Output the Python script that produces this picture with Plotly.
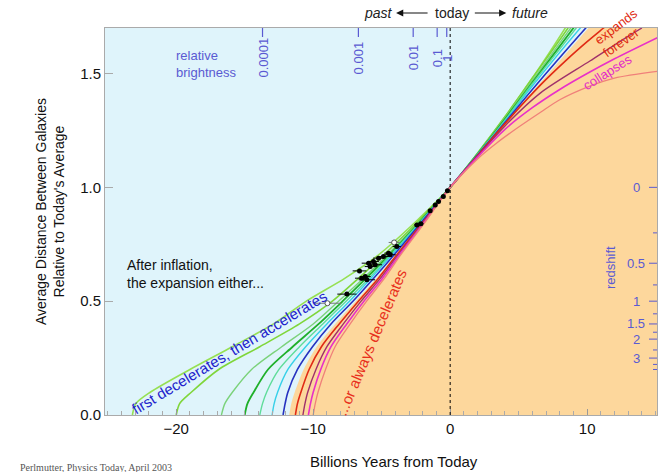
import plotly.graph_objects as go

# ---------------- data ----------------
# Expansion histories: x = billions of years from today, y = average distance relative to today
A_x = [-23.2, -22.95, -21.9, -19.0, -15.9, -12.9, -10.5, -7.7, -5.3, -2.5, 0, 2, 4, 6, 8.4, 9.0]
A_y = [0.0, 0.05, 0.10, 0.20, 0.30, 0.40, 0.50, 0.60, 0.70, 0.85, 1.0, 1.15, 1.31, 1.48, 1.70, 1.76]
B_x = [-20.0, -19.75, -18.9, -16.9, -13.9, -11.0, -8.6, -6.7, -4.9, -2.35, 0, 2, 4, 6, 8.6, 9.2]
B_y = [0.0, 0.05, 0.10, 0.20, 0.30, 0.40, 0.50, 0.60, 0.70, 0.85, 1.0, 1.15, 1.31, 1.48, 1.70, 1.76]
C_x = [-16.7, -16.45, -15.9, -14.5, -12.3, -10.0, -8.15, -6.35, -4.65, -2.25, 0, 2, 4, 6, 8.8, 9.4]
C_y = [0.0, 0.05, 0.10, 0.20, 0.30, 0.40, 0.50, 0.60, 0.70, 0.85, 1.0, 1.148, 1.305, 1.47, 1.70, 1.75]
D_x = [-15.0, -14.8, -14.35, -13.3, -11.5, -9.6, -7.85, -6.15, -4.5, -2.2, 0, 2, 4, 6, 9.0, 9.6]
D_y = [0.0, 0.05, 0.10, 0.20, 0.30, 0.40, 0.50, 0.60, 0.70, 0.85, 1.0, 1.146, 1.30, 1.46, 1.70, 1.75]
E_x = [-13.9, -13.7, -13.4, -12.5, -11.0, -9.3, -7.6, -5.95, -4.4, -2.15, 0, 2, 4, 6, 9.2, 9.8]
E_y = [0.0, 0.05, 0.10, 0.20, 0.30, 0.40, 0.50, 0.60, 0.70, 0.85, 1.0, 1.145, 1.295, 1.455, 1.70, 1.75]
F_x = [-13.0, -12.85, -12.6, -11.85, -10.55, -9.0, -7.35, -5.8, -4.3, -2.1, 0, 2, 4, 6, 9.5, 10.1]
F_y = [0.0, 0.05, 0.10, 0.20, 0.30, 0.40, 0.50, 0.60, 0.70, 0.85, 1.0, 1.143, 1.29, 1.445, 1.70, 1.74]
G_x = [-12.2, -12.05, -11.85, -11.15, -10.05, -8.7, -7.1, -5.6, -4.15, -2.05, 0, 2, 4, 6, 9.9, 10.5]
G_y = [0.0, 0.05, 0.10, 0.20, 0.30, 0.40, 0.50, 0.60, 0.70, 0.85, 1.0, 1.142, 1.285, 1.43, 1.70, 1.74]
H_x = [-11.3, -11.15, -10.9, -10.3, -9.4, -8.1, -6.7, -5.25, -3.95, -1.95, 0, 2, 4, 6.6, 8.5, 10.0, 11.2, 11.8]
H_y = [0.0, 0.05, 0.10, 0.20, 0.30, 0.40, 0.50, 0.60, 0.70, 0.85, 1.0, 1.14, 1.28, 1.45, 1.56, 1.64, 1.70, 1.73]
I_x = [-10.75, -10.6, -10.4, -9.8, -9.0, -7.8, -6.5, -5.1, -3.85, -1.9, 0, 2, 4, 6.6, 10.2, 12.9, 14.0]
I_y = [0.0, 0.05, 0.10, 0.20, 0.30, 0.40, 0.50, 0.60, 0.70, 0.85, 1.0, 1.137, 1.27, 1.415, 1.555, 1.66, 1.70]
J_x = [-10.35, -10.2, -10.0, -9.45, -8.7, -7.55, -6.3, -4.95, -3.75, -1.85, 0, 2, 4, 6, 8, 10, 12, 15.2]
J_y = [0.0, 0.05, 0.10, 0.20, 0.30, 0.40, 0.50, 0.60, 0.70, 0.85, 1.0, 1.133, 1.255, 1.35, 1.43, 1.50, 1.565, 1.66]
K_x = [-10.0, -9.85, -9.65, -9.1, -8.4, -7.3, -6.1, -4.8, -3.65, -1.8, 0, 2, 3.4, 5, 6.6, 8, 10.2, 12, 15.2]
K_y = [0.0, 0.05, 0.10, 0.20, 0.30, 0.40, 0.50, 0.60, 0.70, 0.85, 1.0, 1.125, 1.195, 1.265, 1.33, 1.385, 1.445, 1.48, 1.51]

# boundary of the orange (always-decelerating) region
bound_x = [-11.75, -11.6, -11.35, -10.7, -9.75, -8.4, -6.9, -5.4, -4.05, -2.0, 0, 5, 10.1, 11.0, 16.0, 16.0, -11.75]
bound_y = [0.0, 0.05, 0.10, 0.20, 0.30, 0.40, 0.50, 0.60, 0.70, 0.85, 1.0, 1.35, 1.70, 1.76, 1.80, -0.10, -0.10]

# supernova measurements
sn_x = [-7.54, -6.62, -6.2, -5.96, -5.84, -5.6, -5.47, -5.23, -4.87, -4.5, -4.38, -6.45, -6.08, -3.9,
        -2.43, -2.14, -1.46, -1.09, -0.85, -0.5, -0.2]
sn_y = [0.531, 0.633, 0.608, 0.667, 0.652, 0.674, 0.66, 0.689, 0.696, 0.711, 0.704, 0.601, 0.594, 0.74,
        0.835, 0.84, 0.897, 0.923, 0.938, 0.96, 0.985]
sn_err = [0.7, 0.5, 0.4, 0.5, 0.4, 0.4, 0.5, 0.4, 0.4, 0.3, 0.4, 0.5, 0.6, 0.3,
          0.2, 0.2, 0.15, 0.1, 0.1, 0.1, 0.1]
sn_open_x = [-8.96, -4.09]
sn_open_y = [0.491, 0.758]
sn_open_err = [1.0, 0.4]

# secondary scales
bright_labels = ["0.0001", "0.001", "0.01", "0.1", "1"]
bright_x = [-13.7, -6.7, -2.7, -0.95, -0.25]
z_major = [0, 0.5, 1, 1.5, 2, 3]
z_major_labels = ["0", "0.5", "1", "1.5", "2", "3"]
z_minor = [0.25, 0.75, 1.25, 1.75, 2.5, 3.5, 4]

# ---------------- styling ----------------
FONT = "Liberation Sans, Arial, Helvetica, sans-serif"
BLUE_LAB = "#5a5ad2"
L, R, T, B = 105, 7, 28, 57
W, H = 664, 472
PH = H - T - B
PW = W - L - R
XR = [-25.2, 15.1]
YR = [0, 1.70]

def py2paper(py):
    return (H - B - py) / PH

def px2paper(px):
    return (px - L) / PW

fig = go.Figure()

fig.add_trace(go.Scatter(x=bound_x, y=bound_y, mode="lines", fill="toself",
                         fillcolor="#fdd79c", line=dict(width=0, shape="spline", smoothing=0.8),
                         hoverinfo="skip", showlegend=False))

curves = [
    (A_x, A_y, "#96e052", 1.6),
    (B_x, B_y, "#7fd63a", 1.6),
    (C_x, C_y, "#7bd27a", 1.4),
    (D_x, D_y, "#1fb02a", 1.8),
    (E_x, E_y, "#5fdc9a", 1.4),
    (F_x, F_y, "#36d0e8", 1.4),
    (G_x, G_y, "#2632c0", 1.6),
    (H_x, H_y, "#e02a14", 1.6),
    (I_x, I_y, "#a0306a", 1.4),
    (J_x, J_y, "#e830c8", 1.6),
    (K_x, K_y, "#f0807a", 1.3),
]
for cx, cy, col, w in curves:
    fig.add_trace(go.Scatter(x=cx, y=cy, mode="lines",
                             line=dict(color=col, width=w, shape="spline", smoothing=0.8),
                             hoverinfo="skip", showlegend=False))

fig.add_trace(go.Scatter(x=sn_open_x, y=sn_open_y, mode="markers",
                         marker=dict(size=5, color="white", line=dict(color="#555", width=1)),
                         error_x=dict(type="data", array=sn_open_err, color="#777", thickness=1, width=0),
                         showlegend=False))
fig.add_trace(go.Scatter(x=sn_x, y=sn_y, mode="markers",
                         marker=dict(size=5, color="black"),
                         error_x=dict(type="data", array=sn_err, color="black", thickness=1, width=0),
                         showlegend=False))

shapes = []
shapes.append(dict(type="line", xref="x", yref="paper", x0=0, x1=0, y0=0, y1=1,
                   line=dict(color="black", width=1, dash="3px,3px"), layer="above"))
for bx in bright_x:
    shapes.append(dict(type="line", xref="x", yref="paper", x0=bx, x1=bx, y0=1, y1=1 - 9 / PH,
                       line=dict(color=BLUE_LAB, width=1.2), layer="above"))
for z in z_major:
    a = 1 / (1 + z)
    shapes.append(dict(type="line", xref="paper", yref="y", x0=1, x1=1 - 8 / PW, y0=a, y1=a,
                       line=dict(color=BLUE_LAB, width=1), layer="above"))
for z in z_minor:
    a = 1 / (1 + z)
    shapes.append(dict(type="line", xref="paper", yref="y", x0=1, x1=1 - 4 / PW, y0=a, y1=a,
                       line=dict(color=BLUE_LAB, width=1), layer="above"))

ann = []

def add_text(text, px, py, size, color, angle=0, xanchor="center", align="center", family=FONT):
    ann.append(dict(text=text, x=px2paper(px), y=py2paper(py), xref="paper", yref="paper",
                    showarrow=False, textangle=angle, xanchor=xanchor, yanchor="middle", align=align,
                    font=dict(family=family, size=size, color=color)))

for lab, bx in zip(bright_labels, bright_x):
    ann.append(dict(text=lab, x=bx, y=py2paper(58), xref="x", yref="paper", textangle=-90,
                    showarrow=False, xanchor="center", yanchor="middle",
                    font=dict(family=FONT, size=13, color=BLUE_LAB)))
add_text("relative<br>brightness", 174, 64, 13, BLUE_LAB, xanchor="left", align="left")
for z, lab in zip(z_major, z_major_labels):
    ann.append(dict(text=lab, x=px2paper(636), y=1 / (1 + z), xref="paper", yref="y",
                    showarrow=False, xanchor="center", yanchor="middle",
                    font=dict(family=FONT, size=13, color=BLUE_LAB)))
add_text("redshift", 610, 268, 13, BLUE_LAB, angle=-90)

# past / today / future
ann.append(dict(text="<i>past</i>", x=-5.25, y=py2paper(13), xref="x", yref="paper", showarrow=False,
                xanchor="center", yanchor="middle", font=dict(family=FONT, size=14, color="#222")))
ann.append(dict(text="today", x=0.15, y=py2paper(13), xref="x", yref="paper", showarrow=False,
                xanchor="center", yanchor="middle", font=dict(family=FONT, size=14, color="#222")))
ann.append(dict(text="<i>future</i>", x=5.8, y=py2paper(13), xref="x", yref="paper", showarrow=False,
                xanchor="center", yanchor="middle", font=dict(family=FONT, size=14, color="#222")))
ann.append(dict(text="", x=-3.95, y=py2paper(13), xref="x", yref="paper", showarrow=True,
                ax=33, ay=0, arrowhead=2, arrowsize=1.2, arrowwidth=1.2, arrowcolor="#111"))
ann.append(dict(text="", x=4.1, y=py2paper(13), xref="x", yref="paper", showarrow=True,
                ax=-33, ay=0, arrowhead=2, arrowsize=1.2, arrowwidth=1.2, arrowcolor="#111"))

# in-plot texts
add_text("After inflation,<br>the expansion either...", 125, 274, 14, "#111", xanchor="left", align="left")
add_text("first decelerates, then accelerates", 229, 352, 15, "#1e1ecc", angle=-31)
add_text("...or always decelerates", 371, 342, 15, "#e8301c", angle=-67)
add_text("expands", 616, 26, 13, "#e02a10", angle=-37)
add_text("forever", 621, 43, 13, "#e02a10", angle=-35)
add_text("collapses", 607, 72, 13, "#e22cc8", angle=-32)

# axis titles
add_text("Billions Years from Today", 394, 462, 15, "#111")
add_text("Average Distance Between Galaxies<br>Relative to Today's Average", 50, 212, 14, "#111", angle=-90)
add_text("Perlmutter, Physics Today, April 2003", 18, 467, 10, "#555", xanchor="left",
         family="Liberation Serif, serif")

fig.update_layout(
    width=W, height=H,
    margin=dict(l=L, r=R, t=T, b=B, pad=0),
    paper_bgcolor="white",
    plot_bgcolor="#dff4fb",
    showlegend=False,
    hovermode=False,
    shapes=shapes,
    annotations=ann,
    xaxis=dict(range=XR, tickvals=[-20, -10, 0, 10], ticktext=["\u221220", "\u221210", "0", "10"],
               ticks="inside", ticklen=6, tickcolor="#999", showgrid=False, zeroline=False,
               showline=True, linecolor="#aaa", linewidth=1, mirror=True,
               tickfont=dict(family=FONT, size=15, color="#111"),
               minor=dict(dtick=1, ticks="inside", ticklen=4, tickcolor="#aaa")),
    yaxis=dict(range=YR, tickvals=[0, 0.5, 1.0, 1.5], ticktext=["0.0", "0.5", "1.0", "1.5"],
               ticks="inside", ticklen=8, tickcolor="#aaa", showgrid=False, zeroline=False,
               showline=True, linecolor="#aaa", linewidth=1, mirror=True,
               tickfont=dict(family=FONT, size=15, color="#111")),
)

fig.write_html("out.html", config={"displayModeBar": False, "staticPlot": True},
               post_script="document.body.style.margin='0';document.body.style.overflow='hidden';")
